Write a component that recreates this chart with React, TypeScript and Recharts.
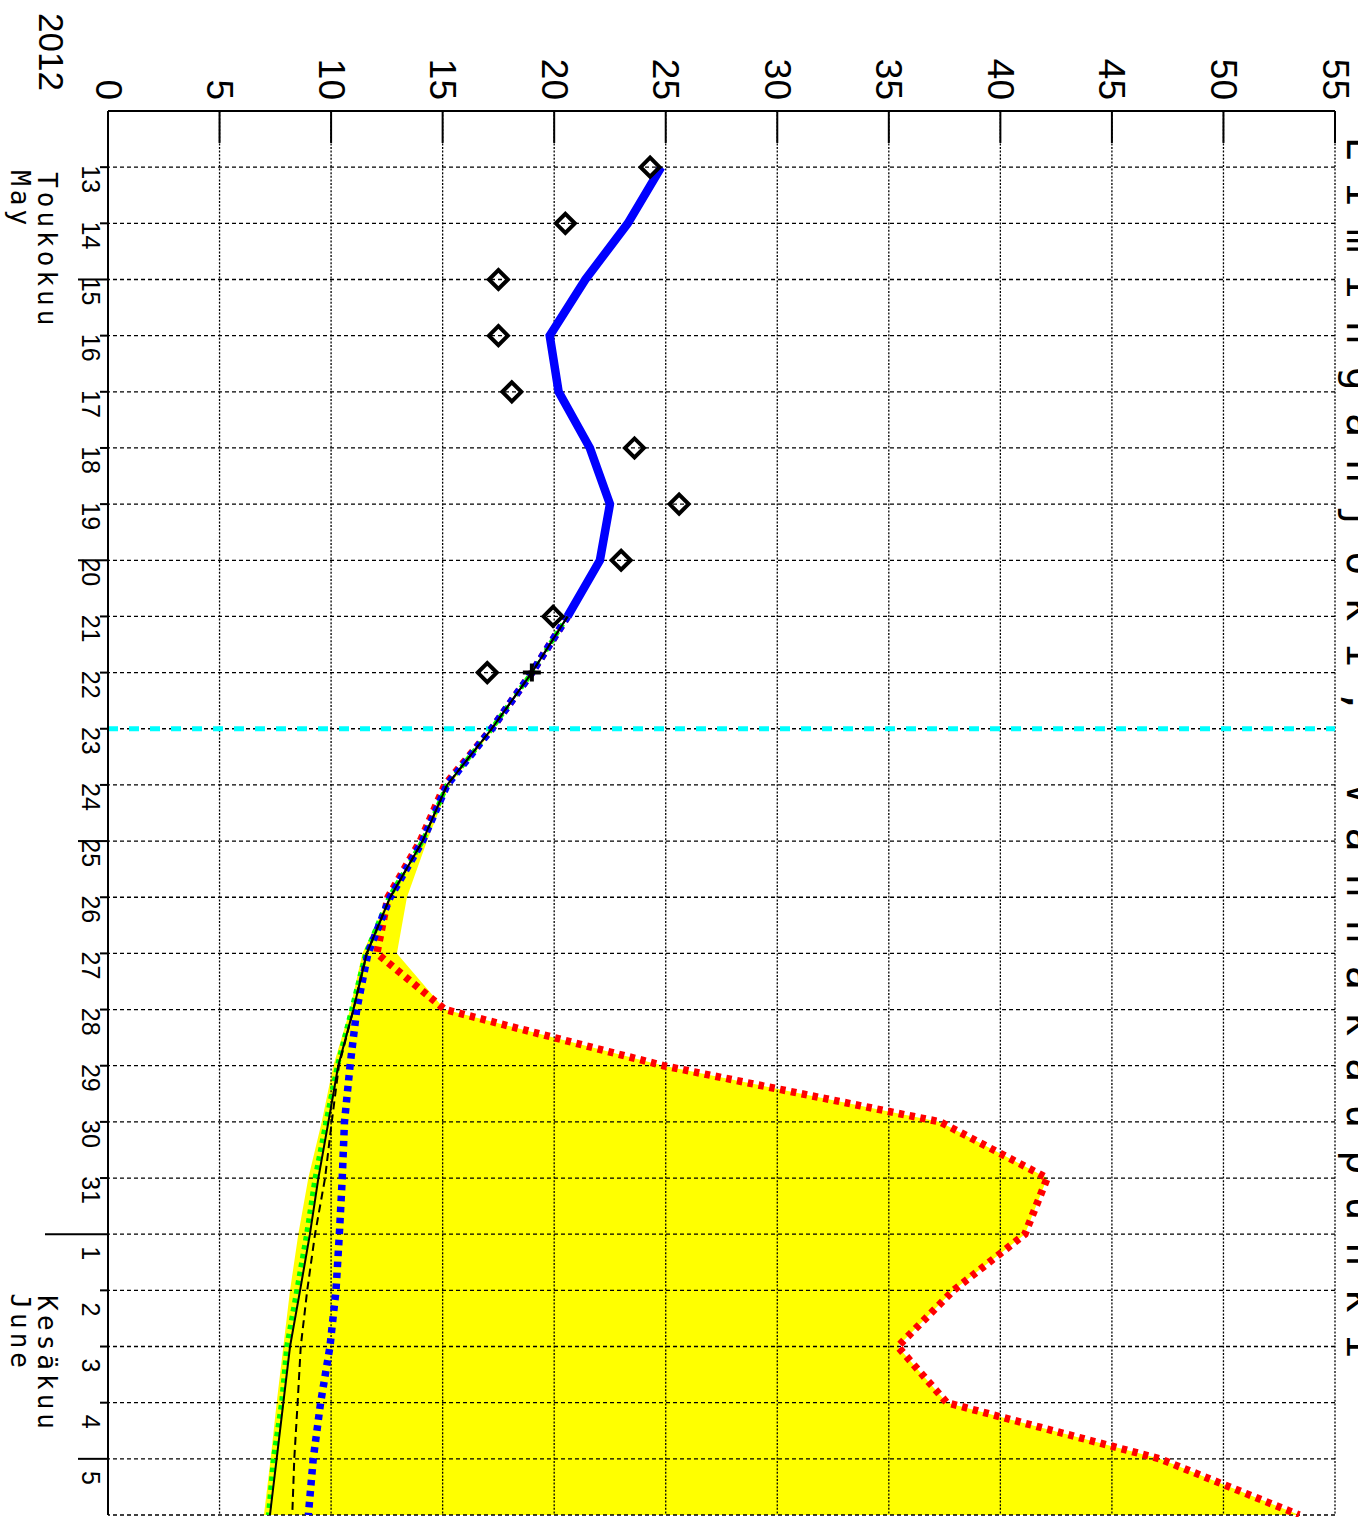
import React from "react";
import {
  Area,
  CartesianGrid,
  ComposedChart,
  Line,
  ReferenceLine,
  XAxis,
  YAxis
} from "recharts";

// chart is drawn upright and then turned 90deg clockwise
const W = 1517;
const H = 1358;
const AXIS_X = 111;
const AXIS_Y = 1250;

const NUM_FONT = "'Liberation Sans', Arial, sans-serif";
const MONO_FONT = "'DejaVu Sans Mono', monospace";

const title = "Liminganjoki, Vanhakaupunki";
const yearLabel = "2012";
const months = [
  { day: 13, fi: "Toukokuu", en: "May" },
  { day: 33, fi: "Kesäkuu", en: "June" }
];

const dayTicks = [13, 14, 15, 16, 17, 18, 19, 20, 21, 22, 23, 24, 25, 26, 27, 28, 29, 30, 31, 32, 33, 34, 35, 36];
const gridDays = [...dayTicks, 37];
const longTickDays = [15, 20, 25, 36];
const monthStartDay = 32;
const valueTicks = [0, 5, 10, 15, 20, 25, 30, 35, 40, 45, 50, 55];
const todayDay = 23;

// observed values
const obsDays = [13, 14, 15, 16, 17, 18, 19, 20, 21, 22];
const observed = [24.3, 20.5, 17.5, 17.5, 18.1, 23.6, 25.6, 23.0, 19.95, 17.0];

// simulated, past
const pastDays = [13, 14, 15, 16, 17, 18, 19, 20, 21];
const pastSim = [24.8, 23.3, 21.4, 19.8, 20.2, 21.6, 22.5, 22.05, 20.6];

// forecast
const fcDays = [21, 22, 23, 24, 25, 26, 27, 28, 29, 30, 31, 32, 33, 34, 35, 36, 37];
const fcBlue = [20.6, 19.0, 17.2, 15.2, 14.1, 12.65, 11.65, 11.15, 10.85, 10.6, 10.5, 10.37, 10.22, 9.95, 9.53, 9.2, 8.98];
const fcBlack = [20.6, 19.0, 17.2, 15.2, 14.1, 12.65, 11.6, 11.0, 10.32, 9.88, 9.43, 9.05, 8.61, 8.16, 7.86, 7.56, 7.26];
const fcDashed = [20.6, 19.0, 17.2, 15.2, 14.1, 12.65, 11.6, 11.0, 10.35, 10.03, 9.73, 9.28, 8.93, 8.64, 8.5, 8.35, 8.26];
const fcGreen = [20.6, 19.0, 17.2, 15.2, 14.1, 12.6, 11.55, 10.92, 10.28, 9.77, 9.28, 8.9, 8.46, 8.01, 7.78, 7.41, 7.19];
const fcRed = [20.6, 19.0, 17.2, 15.1, 14.0, 12.55, 12.05, 15.1, 24.9, 37.3, 42.1, 41.1, 37.9, 35.4, 37.6, 47.15, 53.4];
const bandLow = [20.6, 19.0, 17.2, 15.2, 14.1, 12.6, 11.4, 10.85, 10.1, 9.58, 8.98, 8.53, 8.16, 7.86, 7.56, 7.29, 6.99];
const bandHigh = [20.6, 19.0, 17.3, 15.3, 14.3, 13.4, 12.95, 15.1, 24.9, 37.3, 42.1, 41.1, 37.9, 35.4, 37.6, 47.15, 53.4];

const markDay = 22;
const markValue = 19.0;

const rows = gridDays.map((d) => {
  const row: any = { d };
  const oi = obsDays.indexOf(d);
  if (oi >= 0) row.obs = observed[oi];
  const pi = pastDays.indexOf(d);
  if (pi >= 0) row.past = pastSim[pi];
  const fi = fcDays.indexOf(d);
  if (fi >= 0) {
    row.blue = fcBlue[fi];
    row.black = fcBlack[fi];
    row.dashed = fcDashed[fi];
    row.green = fcGreen[fi];
    row.red = fcRed[fi];
    row.band = [bandLow[fi], bandHigh[fi]];
  }
  if (d === markDay) row.mark = markValue;
  return row;
});

const dayLabel = (d: number) => (d > 31 ? d - 31 : d);

function DayTick(props: any) {
  const { x, payload } = props;
  const d = payload.value;
  const len = d === monthStartDay ? 63 : longTickDays.includes(d) ? 30 : 8;
  return (
    <g>
      <line x1={x} x2={x} y1={AXIS_Y} y2={AXIS_Y + len} stroke="#000" strokeWidth={2} />
      <text x={x + 26} y={AXIS_Y + 26} textAnchor="end" fontSize={25} fontFamily={NUM_FONT} fill="#000">
        {dayLabel(d)}
      </text>
    </g>
  );
}

function ValueTick(props: any) {
  const { y, payload } = props;
  return (
    <g>
      <line x1={AXIS_X} x2={AXIS_X + 32} y1={y} y2={y} stroke="#000" strokeWidth={2} />
      <text
        x={AXIS_X - 11}
        y={y}
        textAnchor="end"
        dominantBaseline="central"
        fontSize={37}
        fontFamily={NUM_FONT}
        fill="#000"
      >
        {payload.value}
      </text>
    </g>
  );
}

function diamond(p: any) {
  if (p.cy == null || p.value == null) return <g key={p.index} />;
  const r = 9.5;
  const { cx, cy } = p;
  return (
    <path
      key={p.index}
      d={`M${cx},${cy - r}L${cx + r},${cy}L${cx},${cy + r}L${cx - r},${cy}Z`}
      fill="none"
      stroke="#000"
      strokeWidth={4}
    />
  );
}

function plus(p: any) {
  if (p.cy == null || p.value == null) return <g key={p.index} />;
  const r = 9;
  const { cx, cy } = p;
  return (
    <path
      key={p.index}
      d={`M${cx - r},${cy}L${cx + r},${cy}M${cx},${cy - r}L${cx},${cy + r}`}
      stroke="#000"
      strokeWidth={4}
    />
  );
}

export default function App() {
  return (
    <div style={{ position: "relative", width: H, height: W, overflow: "hidden", background: "#fff" }}>
      <style>{"body{margin:0;overflow:hidden;background:#fff}"}</style>
      <div
        style={{
          position: "absolute",
          left: 0,
          top: 0,
          width: W,
          height: H,
          transformOrigin: "0 0",
          transform: `translateX(${H}px) rotate(90deg)`
        }}
      >
        <ComposedChart width={W} height={H} data={rows} margin={{ top: 23, right: 2, bottom: 0, left: 0 }}>
          <XAxis
            type="number"
            dataKey="d"
            domain={[12, 37]}
            ticks={dayTicks}
            interval={0}
            height={108}
            tickLine={false}
            axisLine={{ stroke: "#000", strokeWidth: 2 }}
            tick={<DayTick />}
          />
          <YAxis
            type="number"
            domain={[0, 55]}
            ticks={valueTicks}
            interval={0}
            width={111}
            tickLine={false}
            axisLine={{ stroke: "#000", strokeWidth: 2 }}
            tick={<ValueTick />}
          />
          <Area
            type="linear"
            dataKey="band"
            stroke="none"
            fill="#ffff00"
            fillOpacity={1}
            isAnimationActive={false}
          />
          <CartesianGrid
            vertical={false}
            horizontalValues={valueTicks}
            stroke="#000"
            strokeWidth={1.3}
            strokeDasharray="2 1.6"
            zIndex={150}
          />
          <CartesianGrid
            horizontal={false}
            verticalValues={gridDays}
            stroke="#000"
            strokeWidth={1.3}
            strokeDasharray="4 3"
            zIndex={150}
          />
          <ReferenceLine x={todayDay} stroke="#00ffff" strokeWidth={5} strokeDasharray="10 11" zIndex={160} />
          <Line type="linear" dataKey="red" stroke="#ff0000" strokeWidth={7.5} strokeDasharray="5.5 5.5" dot={false} activeDot={false} isAnimationActive={false} />
          <Line type="linear" dataKey="green" stroke="#00ff00" strokeWidth={5} strokeDasharray="4.5 4.5" dot={false} activeDot={false} isAnimationActive={false} />
          <Line type="linear" dataKey="blue" stroke="#0000ff" strokeWidth={7.5} strokeDasharray="5.5 5.5" dot={false} activeDot={false} isAnimationActive={false} />
          <Line type="linear" dataKey="dashed" stroke="#000" strokeWidth={2} strokeDasharray="8 5" dot={false} activeDot={false} isAnimationActive={false} />
          <Line type="linear" dataKey="black" stroke="#000" strokeWidth={2} dot={false} activeDot={false} isAnimationActive={false} />
          <Line type="linear" dataKey="past" stroke="#0000ff" strokeWidth={8.5} dot={false} activeDot={false} isAnimationActive={false} />
          <Line type="linear" dataKey="obs" stroke="none" dot={diamond} activeDot={false} isAnimationActive={false} />
          <Line type="linear" dataKey="mark" stroke="none" dot={plus} activeDot={false} isAnimationActive={false} />
        </ComposedChart>
        <svg width={W} height={H} style={{ position: "absolute", left: 0, top: 0, pointerEvents: "none" }}>
          <text x={W / 2} y={11} textAnchor="middle" fontSize={40} fontFamily={MONO_FONT} letterSpacing={22} fill="#000">
            {title}
          </text>
          <text x={13} y={1319} fontSize={35} fontFamily={NUM_FONT} fill="#000">
            {yearLabel}
          </text>
          {months.map((m) => (
            <g key={m.fi}>
              <text x={AXIS_X + (m.day - 12) * 56.16 + 5} y={1320} fontSize={26} fontFamily={MONO_FONT} letterSpacing={4} fill="#000">
                {m.fi}
              </text>
              <text x={AXIS_X + (m.day - 12) * 56.16 + 3} y={1347} fontSize={26} fontFamily={MONO_FONT} letterSpacing={4} fill="#000">
                {m.en}
              </text>
            </g>
          ))}
        </svg>
      </div>
    </div>
  );
}
